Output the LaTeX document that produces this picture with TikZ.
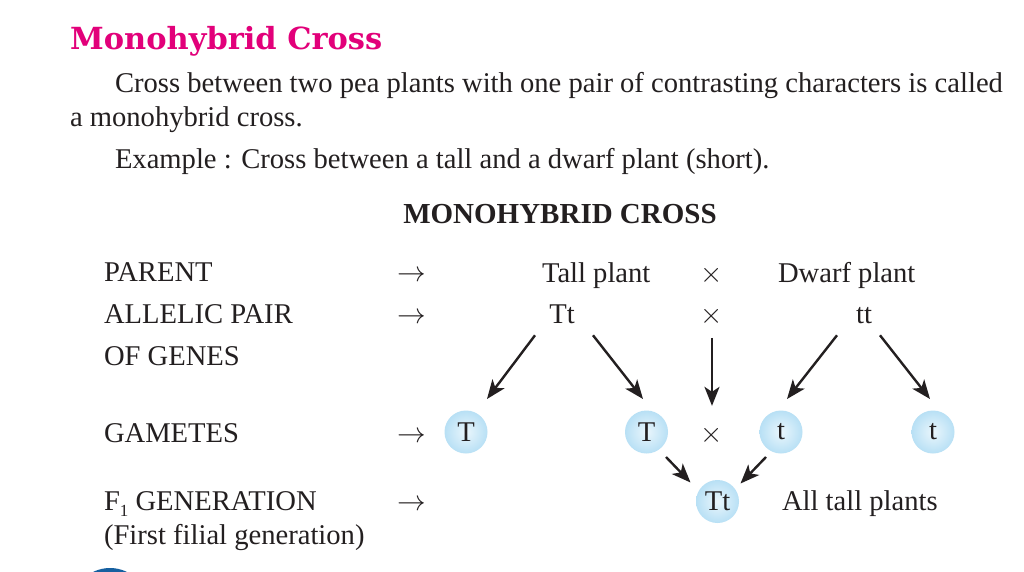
\RequirePackage{fix-cm}
\documentclass[tikz,border=0pt]{standalone}
\usepackage{graphicx}
\usepackage{fontspec}
\setmainfont{Liberation Serif}
\newfontfamily\titlefont{DejaVu Serif}
\usetikzlibrary{arrows.meta}
\definecolor{ink}{RGB}{35,31,32}
\definecolor{rubine}{RGB}{226,0,122}
\definecolor{bubin}{RGB}{234,246,252}
\definecolor{bubout}{RGB}{184,224,245}
\definecolor{badge}{RGB}{22,96,160}
\begin{document}
\begin{tikzpicture}[x=1pt,y=-1pt,
  txt/.style={inner sep=0pt, outer sep=0pt, text=ink, font=\fontsize{28.6}{34}\selectfont},
  lbl/.style={txt, anchor=base west},
  mid/.style={txt, anchor=base},
  bubble/.style={circle, inner sep=0pt, minimum size=43pt, text=ink,
    font=\fontsize{28.6}{34}\selectfont, shading=radial, inner color=bubin, outer color=bubout},
  arr/.style={draw=ink, line width=2.4pt, -{Stealth[length=19pt,width=15pt,inset=5pt]}}
]
\fill[white] (0,0) rectangle (1024,572);
\useasboundingbox (0,0) rectangle (1024,572);

% heading texts
\node[anchor=base west, inner sep=0pt, text=rubine] (title) at (70,50)
  {\resizebox{312pt}{!}{\titlefont\bfseries\fontsize{30}{36}\selectfont Monohybrid Cross}};
\node[lbl] (l1) at (115,93) {Cross between two pea plants with one pair of contrasting characters is called};
\node[lbl] (l2) at (70,127) {a monohybrid cross.};
\node[lbl] (l3) at (115,168) {Example : Cross between a tall and a dwarf plant (short).};
\node[mid, font=\fontsize{29}{34}\selectfont\bfseries] (head) at (560,223) {MONOHYBRID CROSS};

% row labels
\node[lbl] (parent) at (104,281) {PARENT};
\node[lbl] (allelic) at (104,323) {ALLELIC PAIR};
\node[lbl] (ofgenes) at (104,365) {OF GENES};
\node[lbl] (gametes) at (104,442) {GAMETES};
\node[lbl] (fone) at (104,510) {F\raisebox{-6pt}{\fontsize{17}{17}\selectfont 1} GENERATION};
\node[lbl] (filial) at (104,544) {(First filial generation)};

% row arrows
\node[mid] (ra1) at (412,281) {$\rightarrow$};
\node[mid] (ra2) at (412,323) {$\rightarrow$};
\node[mid] (ra3) at (412,442) {$\rightarrow$};
\node[mid] (ra4) at (412,510) {$\rightarrow$};

% parent row
\node[lbl] (tall) at (542,282) {Tall plant};
\node[mid] (x1) at (712,282) {$\times$};
\node[lbl] (dwarf) at (778,282) {Dwarf plant};

% allelic row
\node[mid] (Tt) at (562,323) {Tt};
\node[mid] (x2) at (712,323) {$\times$};
\node[mid] (tt) at (864,323) {tt};

% gametes
\node[bubble] (T1) at (466,432) {T};
\node[bubble] (T2) at (646.5,432) {T};
\node[mid] (x3) at (712,442) {$\times$};
\node[bubble] (t1) at (781,432) {t};
\node[bubble] (t2) at (933,432) {t};

% F1
\node[bubble] (TtF) at (717.5,501.5) {Tt};
\node[lbl] (alltall) at (782,510) {All tall plants};

% connectors
\draw[arr] ([shift={(-27,12)}]Tt.south) -- ([shift={(21,-33)}]T1.center);
\draw[arr] ([shift={(31,12)}]Tt.south) -- ([shift={(-3.5,-33)}]T2.center);
\draw[arr] ([shift={(0,22)}]x2.center) -- ([shift={(0,-29)}]x3.center);
\draw[arr] ([shift={(-27,12)}]tt.south) -- ([shift={(6,-33)}]t1.center);
\draw[arr] ([shift={(16,12)}]tt.south) -- ([shift={(-3,-33)}]t2.center);
\draw[arr] ([shift={(19.5,25)}]T2.center) -- ([shift={(-27,-19)}]TtF.center);
\draw[arr] ([shift={(-15,25)}]t1.center) -- ([shift={(23,-18)}]TtF.center);

% partial badge at bottom edge
\fill[badge] (110,606) circle (38);
\end{tikzpicture}
\end{document}
